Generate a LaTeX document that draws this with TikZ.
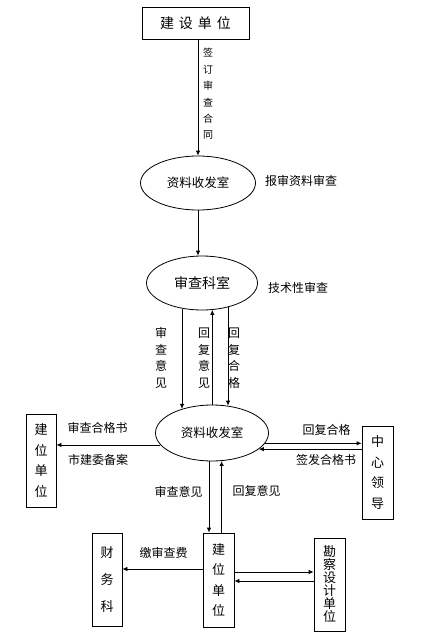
\documentclass[tikz,border=0pt]{standalone}
\usepackage{fontspec}
\newfontfamily\cjk{Noto Sans CJK SC}
\usetikzlibrary{arrows.meta,shapes.geometric}
\begin{document}
\begin{tikzpicture}[x=1pt,y=-1pt,
  every node/.style={font=\cjk},
  box/.style={draw,line width=0.8pt,inner sep=0pt,align=center},
  oval/.style={draw,ellipse,line width=0.8pt,inner sep=0pt},
  arr/.style={line width=0.8pt,-{Latex[length=5pt,width=4.5pt]}},
  lbl/.style={font=\cjk\fontsize{12}{14}\selectfont,inner sep=0pt},
  vlbl/.style={font=\cjk\fontsize{12}{16.5}\selectfont,inner sep=0pt,align=center},
  vbox/.style={box,font=\cjk\fontsize{13}{20.5}\selectfont,minimum width=30pt,minimum height=93pt},
]
\useasboundingbox (0,0) rectangle (422,640);
% nodes
\node[box,minimum width=107pt,minimum height=32pt,font=\cjk\fontsize{14}{16}\selectfont]
  (top) at (195.5,23) {建\hspace{5pt}设\hspace{5pt}单\hspace{5pt}位};
\node[oval,minimum width=115pt,minimum height=54pt,font=\cjk\fontsize{12.5}{14}\selectfont]
  (e1) at (198,183) {资料收发室};
\node[oval,minimum width=111pt,minimum height=54pt,font=\cjk\fontsize{14}{16}\selectfont]
  (e2) at (202,283) {审查科室};
\node[oval,minimum width=113pt,minimum height=56pt,font=\cjk\fontsize{12.5}{14}\selectfont]
  (e3) at (212,433) {资料收发室};
\node[vbox] (L) at (41,460.5) {建\\位\\单\\位};
\node[vbox,minimum width=31pt] (R) at (377.5,472.5) {中\\心\\领\\导};
\node[vbox,minimum width=31pt,minimum height=94pt] (M) at (218.5,580) {建\\位\\单\\位};
\node[vbox,font=\cjk\fontsize{13}{27}\selectfont] (F) at (107,579.5) {财\\务\\科};
\node[vbox,minimum width=31pt,font=\cjk\fontsize{13}{13}\selectfont] (K) at (329.5,584.5) {勘\\察\\设\\计\\单\\位};
% labels
\node[vlbl,font=\cjk\fontsize{10}{16.4}\selectfont] (l1) at (208,94) {签\\订\\审\\查\\合\\同};
\node[lbl] (l2) at (301,181) {报审资料审查};
\node[lbl] (l3) at (298,288) {技术性审查};
\node[vlbl] (l4) at (161,358) {审\\查\\意\\见};
\node[vlbl] (l5) at (204,358) {回\\复\\意\\见};
\node[vlbl] (l6) at (234,358) {回\\复\\合\\格};
\node[lbl] (l7) at (97.5,428) {审查合格书};
\node[lbl] (l8) at (98,460) {市建委备案};
\node[lbl] (l9) at (326.5,430) {回复合格};
\node[lbl] (l10) at (326,460) {签发合格书};
\node[lbl] (l11) at (178.5,492) {审查意见};
\node[lbl] (l12) at (256.5,491) {回复意见};
\node[lbl] (l13) at (163.5,553) {缴审查费};
% connectors
\draw[arr] (e1.north |- top.south) -- (e1.north);
\draw[arr] (e1.south) -- (e1.south |- e2.north);
\draw[arr] (e2.-128.45) -- (e2.-128.45 |- e3.141.65);
\draw[arr] (e2.-69.4 |- e3.north) -- (e2.-69.4);
\draw[arr] (e2.-43.95) -- (e2.-43.95 |- e3.60.9);
\draw[arr] (e3.193.2) -- (e3.193.2 -| L.east);
\draw[arr] (e3.-11.95) -- (e3.-11.95 -| R.west);
\draw[arr] (e3.-19.03 -| R.west) -- (e3.-19.03);
\draw[arr] (e3.-96.1) -- (e3.-96.1 |- M.north);
\draw[arr] (e3.-71.96 |- M.north) -- (e3.-71.96);
\coordinate (m1) at ([yshift=11pt]M.west);
\coordinate (m2) at ([yshift=8pt]M.east);
\coordinate (m3) at ([yshift=-1pt]M.east);
\draw[arr] (m1) -- (m1 -| F.east);
\draw[arr] (m2) -- (m2 -| K.west);
\draw[arr] (m3 -| K.west) -- (m3);
\end{tikzpicture}
\end{document}
